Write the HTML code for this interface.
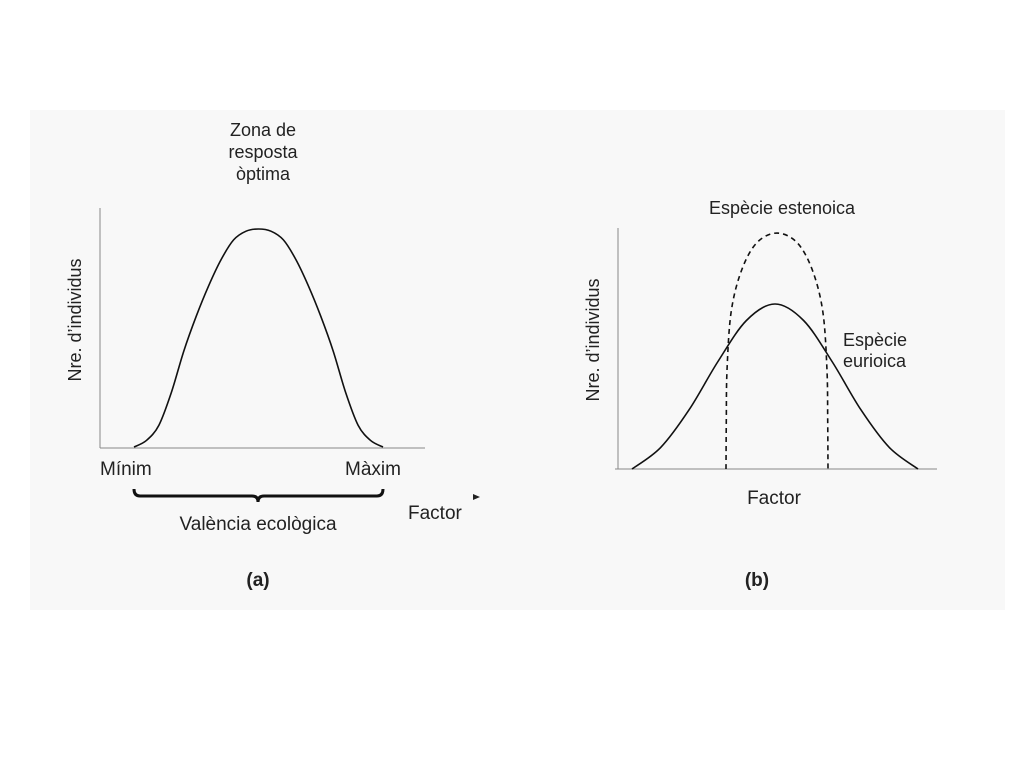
<!DOCTYPE html>
<html><head><meta charset="utf-8"><style>
body{margin:0;background:#fff;}
svg text{font-family:"Liberation Sans",sans-serif;fill:#222;}
</style></head><body>
<svg width="1024" height="768" xmlns="http://www.w3.org/2000/svg">
<rect x="30" y="110" width="975" height="500" fill="#f8f8f8"/>
<g id="pa">
<line x1="100" y1="208" x2="100" y2="448" stroke="#888" stroke-width="1"/>
<line x1="100" y1="448" x2="425" y2="448" stroke="#888" stroke-width="1"/>
<text x="263" y="136" font-size="18" text-anchor="middle"><tspan x="263">Zona de</tspan><tspan x="263" dy="22">resposta</tspan><tspan x="263" dy="22">òptima</tspan></text>
<text transform="translate(81,320) rotate(-90)" font-size="18" text-anchor="middle">Nre. d’individus</text>
<text x="100" y="475" font-size="19">Mínim</text>
<text x="345" y="475" font-size="19">Màxim</text>
<path d="M134,489 Q134,496 140,496 L252,496 Q258,496 258,502 Q258,496 264,496 L377,496 Q383,496 383,489" fill="none" stroke="#111" stroke-width="3"/>
<text x="258" y="530" font-size="19" text-anchor="middle">València ecològica</text>
<text x="408" y="519" font-size="19">Factor</text>
<polygon points="473,494 480,497 473,500" fill="#222"/>
<text x="258" y="586" font-size="19" font-weight="bold" text-anchor="middle">(a)</text>
</g>
<g id="pb">
<line x1="618" y1="228" x2="618" y2="469" stroke="#888" stroke-width="1"/>
<line x1="615" y1="469" x2="937" y2="469" stroke="#888" stroke-width="1"/>
<text x="782" y="214" font-size="18" text-anchor="middle">Espècie estenoica</text>
<text transform="translate(599,340) rotate(-90)" font-size="18" text-anchor="middle">Nre. d’individus</text>
<text x="843" y="346" font-size="18"><tspan x="843">Espècie</tspan><tspan x="843" dy="21">eurioica</tspan></text>
<text x="774" y="504" font-size="19" text-anchor="middle">Factor</text>
<text x="757" y="586" font-size="19" font-weight="bold" text-anchor="middle">(b)</text>
</g>
</svg>
<script>
// Panel (a): tolerance curve
const aX = [0,0.05,0.1,0.15,0.2,0.25,0.3,0.35,0.4,0.45,0.5,0.55,0.6,0.65,0.7,0.75,0.8,0.85,0.9,0.95,1];
const aY = [0,0.03,0.1,0.25,0.44,0.6,0.74,0.86,0.95,0.99,1,0.99,0.95,0.86,0.74,0.6,0.44,0.25,0.1,0.03,0];
// Panel (b): euryoic species (solid)
const euryX = [0,0.1,0.2,0.3,0.4,0.5,0.6,0.7,0.8,0.9,1];
const euryY = [0,0.13,0.36,0.65,0.9,1,0.9,0.65,0.36,0.13,0];
// Panel (b): stenoic species (dashed)
const stenoX = [0,0.003,0.01,0.05,0.15,0.3,0.5,0.7,0.85,0.95,0.99,0.997,1];
const stenoY = [0,0.3,0.6,0.95,1.2,1.37,1.43,1.37,1.2,0.95,0.6,0.3,0];

function scale(d0,d1,r0,r1){return v=>r0+(v-d0)/(d1-d0)*(r1-r0);}
function smooth(pts){
  let d='M'+pts[0][0]+','+pts[0][1];
  for(let i=0;i<pts.length-1;i++){
    const p0=pts[Math.max(0,i-1)],p1=pts[i],p2=pts[i+1],p3=pts[Math.min(pts.length-1,i+2)];
    const c1=[p1[0]+(p2[0]-p0[0])/6,p1[1]+(p2[1]-p0[1])/6];
    const c2=[p2[0]-(p3[0]-p1[0])/6,p2[1]-(p3[1]-p1[1])/6];
    d+=' C'+c1[0]+','+c1[1]+' '+c2[0]+','+c2[1]+' '+p2[0]+','+p2[1];
  }
  return d;
}
const NS='http://www.w3.org/2000/svg';
function draw(g,xs,ys,sx,sy,dash,name){
  const p=document.createElementNS(NS,'path');
  p.setAttribute('d',smooth(xs.map((x,i)=>[sx(x),sy(ys[i])])));
  p.setAttribute('fill','none');p.setAttribute('stroke','#111');p.setAttribute('stroke-width','1.6');
  if(dash)p.setAttribute('stroke-dasharray','5,4');
  
  
  g.appendChild(p);
}
draw(document.getElementById('pa'),aX,aY,scale(0,1,134,383),scale(0,1,447,229),false,'tolerance-curve');
const byS=scale(0,1,469,304);
draw(document.getElementById('pb'),euryX,euryY,scale(0,1,632,918),byS,false,'euryoic-curve');
draw(document.getElementById('pb'),stenoX,stenoY,scale(0,1,726,828),byS,true,'stenoic-curve');
</script>
</body></html>
